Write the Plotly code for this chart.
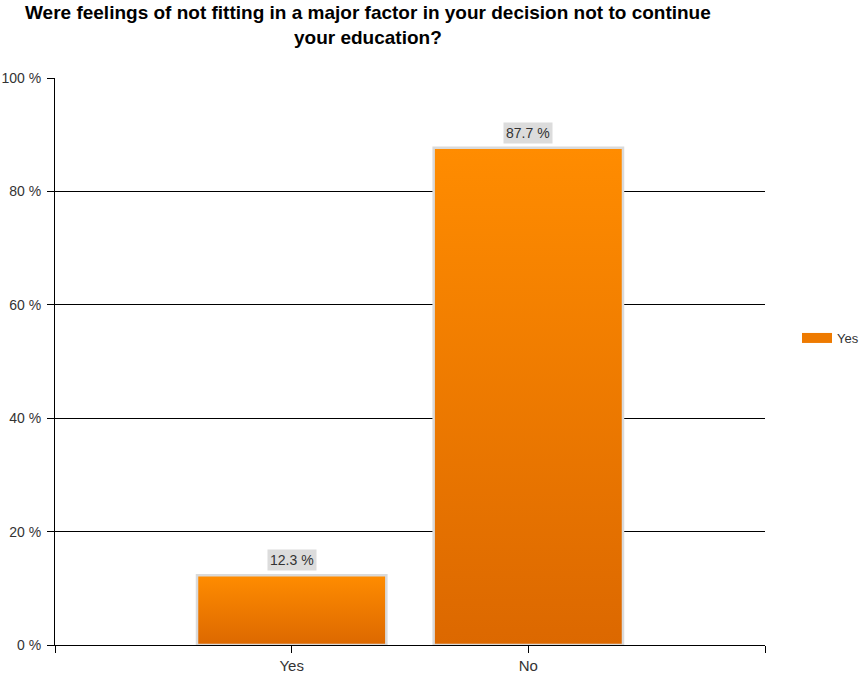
import plotly.graph_objects as go

# Survey answers and their shares (percent)
categories = ["Yes", "No"]
shares = [12.3, 87.7]
series_name = "Yes"
y_ticks = [0, 20, 40, 60, 80, 100]
y_tick_labels = ["0 %", "20 %", "40 %", "60 %", "80 %", "100 %"]

W, H = 863, 675
BAR_W = 0.8
TOP_COLOR = "#FF8C00"
BOTTOM_COLOR = "#DC6800"
EDGE = "#DADADA"
FONT = "Liberation Sans, Arial"

positions = list(range(len(categories)))
fig = go.Figure()

# Base bar trace
fig.add_trace(go.Bar(
    x=positions, y=shares, width=BAR_W, name=series_name,
    marker=dict(color="#EE7C00", line=dict(color=EDGE, width=2)),
    showlegend=False, hoverinfo="skip",
))

# Vertical gradient overlay for each bar, built from the bar's value
for p, v in zip(positions, shares):
    x0, x1 = p - BAR_W / 2, p + BAR_W / 2
    fig.add_trace(go.Scatter(
        x=[x0, x1, x1, x0, x0], y=[0, 0, v, v, 0],
        mode="lines", fill="toself", name=series_name,
        line=dict(color=EDGE, width=2.5),
        fillgradient=dict(type="vertical",
                          colorscale=[[0, BOTTOM_COLOR], [1, TOP_COLOR]]),
        showlegend=False, hoverinfo="skip",
    ))
    fig.add_annotation(
        x=p, y=v, text=f"{v} %", showarrow=False, yanchor="bottom", yshift=4,
        bgcolor="#DCDCDC", borderpad=2,
        font=dict(family=FONT, size=14, color="#333333"),
    )

# Legend entry for the series (wide swatch)
fig.add_trace(go.Scatter(
    x=[None], y=[None], mode="lines", name=series_name,
    line=dict(color="#EE7A00", width=11), showlegend=True, hoverinfo="skip",
))

# Chart title
fig.add_annotation(
    xref="paper", yref="paper", x=(368 - 55) / (W - 55 - 98), y=1 + 28 / (H - 78 - 30),
    xanchor="center", yanchor="bottom", showarrow=False, align="center",
    text="<b>Were feelings of not fitting in a major factor in your decision not to continue<br>your education?</b>",
    font=dict(family=FONT, size=19, color="black"),
)

fig.update_layout(
    width=W, height=H,
    margin=dict(l=55, r=98, t=78, b=30, autoexpand=False),
    paper_bgcolor="white", plot_bgcolor="white",
    legend=dict(
        x=797 / W, y=1 - 338 / H, xanchor="left", yanchor="middle",
        xref="container", yref="container",
        font=dict(family=FONT, size=13, color="#333333"),
        itemwidth=30, bgcolor="rgba(0,0,0,0)",
    ),
    showlegend=True,
    bargap=0,
)

fig.update_xaxes(
    range=[-1, 2],
    tickvals=[-1, 0, 1, 2], ticktext=["", "Yes", "No", ""],
    showgrid=False, zeroline=False,
    showline=True, linecolor="black", linewidth=1,
    ticks="outside", ticklen=7, tickcolor="black",
    tickfont=dict(family=FONT, size=15, color="#333333"),
    automargin=False, fixedrange=True,
)
fig.update_yaxes(
    range=[0, 100],
    tickvals=y_ticks, ticktext=y_tick_labels,
    showgrid=True, gridcolor="black", gridwidth=1,
    zeroline=False,
    showline=True, linecolor="black", linewidth=1,
    ticks="outside", ticklen=7, tickcolor="black", ticklabelstandoff=3,
    tickfont=dict(family=FONT, size=14, color="#333333"),
    automargin=False, fixedrange=True,
)

fig.write_html("out.html")
